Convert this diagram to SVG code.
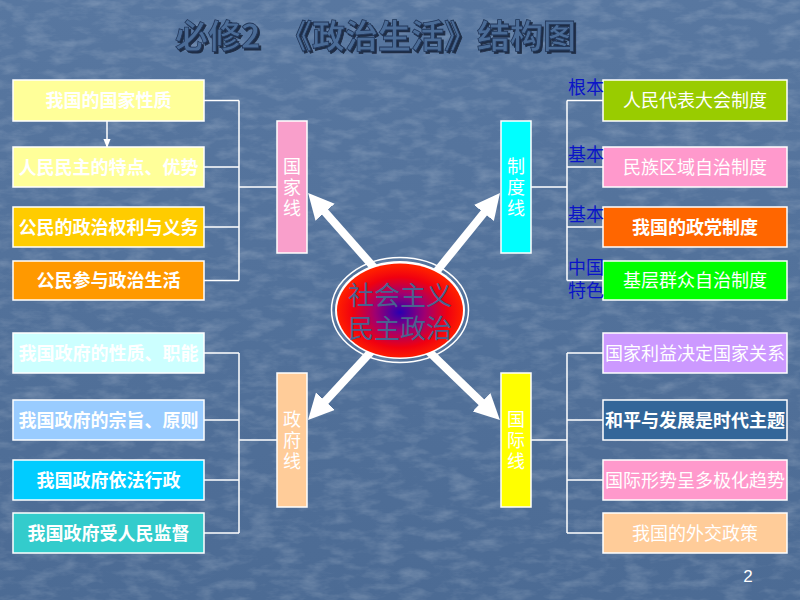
<svg xmlns="http://www.w3.org/2000/svg" width="800" height="600" viewBox="0 0 800 600">
<defs>
<linearGradient id="bg" x1="0" y1="0" x2="0" y2="1">
<stop offset="0" stop-color="#5877a0"/>
<stop offset="1" stop-color="#4c6b94"/>
</linearGradient>
<filter id="tex" x="0" y="0" width="100%" height="100%">
<feTurbulence type="fractalNoise" baseFrequency="0.04 0.1" numOctaves="4" seed="7" result="n"/>
<feColorMatrix in="n" type="matrix" values="0 0 0 0 1  0 0 0 0 1  0 0 0 0 1  0 0 0 -2 1.15" />
</filter>
<filter id="emb" x="-5%" y="-20%" width="110%" height="140%">
<feDropShadow dx="2" dy="2" stdDeviation="0.6" flood-color="#16233a" flood-opacity="0.9"/>
</filter>
<radialGradient id="eg" cx="0.5" cy="0.52" r="0.5">
<stop offset="0" stop-color="#2a00b0"/>
<stop offset="0.4" stop-color="#a00070"/>
<stop offset="0.75" stop-color="#f00010"/>
<stop offset="1" stop-color="#ff2000"/>
</radialGradient>
<marker id="big" viewBox="0 0 10 10" refX="3" refY="5" markerWidth="3.2" markerHeight="3.2" orient="auto">
<path d="M0,0 L10,5 L0,10 z" fill="#ffffff"/>
</marker>
<marker id="small" viewBox="0 0 10 10" refX="9" refY="5" markerWidth="6" markerHeight="6" orient="auto">
<path d="M0,1 L10,5 L0,9 z" fill="#ffffff"/>
</marker>
<style>
.box{stroke:#ffffff;stroke-width:1.5}
.t{font-family:"Noto Sans CJK SC","Liberation Sans",sans-serif;font-size:18px;fill:#ffffff;text-anchor:middle}
.b{font-weight:bold}
.v{font-family:"Noto Sans CJK SC","Liberation Sans",sans-serif;font-size:18px;fill:#ffffff;text-anchor:middle;writing-mode:vertical-rl;letter-spacing:3px}
.lab{font-family:"Noto Sans CJK SC","Liberation Sans",sans-serif;font-size:18px;fill:#0a14c8;text-anchor:middle}
.con{stroke:#ffffff;stroke-width:1.5;fill:none}
.arr{stroke:#ffffff;stroke-width:8;fill:none}
</style>
</defs>
<rect width="800" height="600" fill="url(#bg)"/>
<rect width="800" height="600" filter="url(#tex)" opacity="0.18"/>

<g id="title" font-family="'Noto Sans CJK SC','Liberation Sans',sans-serif" font-size="33" font-weight="bold">
<text x="175" y="48" fill="#4b6c97" stroke="#22375a" stroke-width="0.8" filter="url(#emb)">必修2<tspan x="279">《政治生活》结构图</tspan></text>
</g>

<g id="connectors">
<path class="con" d="M204,100.5H239M204,167H239M204,227H239M204,280.5H239M239,100.5V280.5M239,187H277"/>
<path class="con" d="M603,100.5H567M603,167H567M603,227H567M603,280.5H567M567,100.5V280.5M567,187H531"/>
<path class="con" d="M204,353H239M204,420H239M204,480H239M204,533H239M239,353V533M239,440H277"/>
<path class="con" d="M603,353H567M603,420H567M603,480H567M603,533H567M567,353V533M567,440H531"/>
<line class="con" x1="107" y1="121" x2="107" y2="147" marker-end="url(#small)"/>
<line class="arr" x1="385" y1="280" x2="320" y2="206.4" marker-end="url(#big)"/>
<line class="arr" x1="428" y1="282" x2="488.7" y2="207" marker-end="url(#big)"/>
<line class="arr" x1="380" y1="342" x2="320.2" y2="406.8" marker-end="url(#big)"/>
<line class="arr" x1="420" y1="343" x2="487" y2="407.6" marker-end="url(#big)"/>
</g>

<g id="center">
<ellipse cx="400" cy="310" rx="68.5" ry="52.5" fill="none" stroke="#ffffff" stroke-width="1.5"/>
<ellipse cx="400" cy="310" rx="65" ry="49" fill="#ffffff"/>
<ellipse cx="400" cy="310.5" rx="63" ry="47" fill="url(#eg)"/>
<text x="400" y="305" font-family="'Noto Sans CJK SC',sans-serif" font-size="26" fill="#4a6290" text-anchor="middle">社会主义<tspan x="400" dy="33">民主政治</tspan></text>
</g>

<g id="guojia">
<rect class="box" x="277" y="121" width="30" height="132" fill="#f99fcb"/>
<text class="v" x="292" y="189">国家线</text>
</g>
<g id="zhidu">
<rect class="box" x="501" y="121" width="30" height="132" fill="#00ffff"/>
<text class="v" x="516" y="189">制度线</text>
</g>
<g id="zhengfu">
<rect class="box" x="277" y="373" width="30" height="134" fill="#ffcc99"/>
<text class="v" x="292" y="442">政府线</text>
</g>
<g id="guoji">
<rect class="box" x="501" y="373" width="30" height="134" fill="#ffff00"/>
<text class="v" x="516" y="442">国际线</text>
</g>

<g id="l1"><rect class="box" x="13" y="80" width="191" height="41" fill="#ffff99"/><text class="t b" x="108.5" y="107">我国的国家性质</text></g>
<g id="l2"><rect class="box" x="13" y="147" width="191" height="40" fill="#ffff99"/><text class="t b" x="108.5" y="173.5">人民民主的特点、优势</text></g>
<g id="l3"><rect class="box" x="13" y="207" width="191" height="40" fill="#ffcc00"/><text class="t b" x="108.5" y="233.5">公民的政治权利与义务</text></g>
<g id="l4"><rect class="box" x="13" y="261" width="191" height="39" fill="#ff9900"/><text class="t b" x="108.5" y="287">公民参与政治生活</text></g>

<g id="r1"><rect class="box" x="603" y="80" width="184" height="41" fill="#99cc00"/><text class="t" x="695" y="107">人民代表大会制度</text></g>
<g id="r2"><rect class="box" x="603" y="147" width="184" height="40" fill="#ff99cc"/><text class="t" x="695" y="173.5">民族区域自治制度</text></g>
<g id="r3"><rect class="box" x="603" y="207" width="184" height="40" fill="#ff6600"/><text class="t b" x="695" y="233.5">我国的政党制度</text></g>
<g id="r4"><rect class="box" x="603" y="261" width="184" height="39" fill="#00ff00"/><text class="t" x="695" y="287">基层群众自治制度</text></g>

<g id="labels">
<text class="lab" x="586" y="94">根本</text>
<text class="lab" x="586" y="161">基本</text>
<text class="lab" x="586" y="221">基本</text>
<text class="lab" x="586" y="274">中国<tspan x="586" dy="23">特色</tspan></text>
</g>

<g id="bl1"><rect class="box" x="13" y="333" width="191" height="40" fill="#ccffff"/><text class="t b" x="108.5" y="359.5">我国政府的性质、职能</text></g>
<g id="bl2"><rect class="box" x="13" y="400" width="191" height="40" fill="#99ccff"/><text class="t b" x="108.5" y="426.5">我国政府的宗旨、原则</text></g>
<g id="bl3"><rect class="box" x="13" y="460" width="191" height="40" fill="#00ccff"/><text class="t b" x="108.5" y="486.5">我国政府依法行政</text></g>
<g id="bl4"><rect class="box" x="13" y="513" width="191" height="40" fill="#33cccc"/><text class="t b" x="108.5" y="539.5">我国政府受人民监督</text></g>

<g id="br1"><rect class="box" x="603" y="333" width="184" height="40" fill="#cc99ff"/><text class="t" x="695" y="359.5">国家利益决定国家关系</text></g>
<g id="br2"><rect class="box" x="603" y="400" width="184" height="40" fill="#336699"/><text class="t b" x="695" y="426.5">和平与发展是时代主题</text></g>
<g id="br3"><rect class="box" x="603" y="460" width="184" height="40" fill="#ff99cc"/><text class="t" x="695" y="486.5">国际形势呈多极化趋势</text></g>
<g id="br4"><rect class="box" x="603" y="513" width="184" height="40" fill="#ffcc99"/><text class="t" x="695" y="539.5">我国的外交政策</text></g>

<text x="748" y="582" font-family="'Liberation Sans',sans-serif" font-size="17" fill="#ffffff" text-anchor="middle">2</text>
</svg>
